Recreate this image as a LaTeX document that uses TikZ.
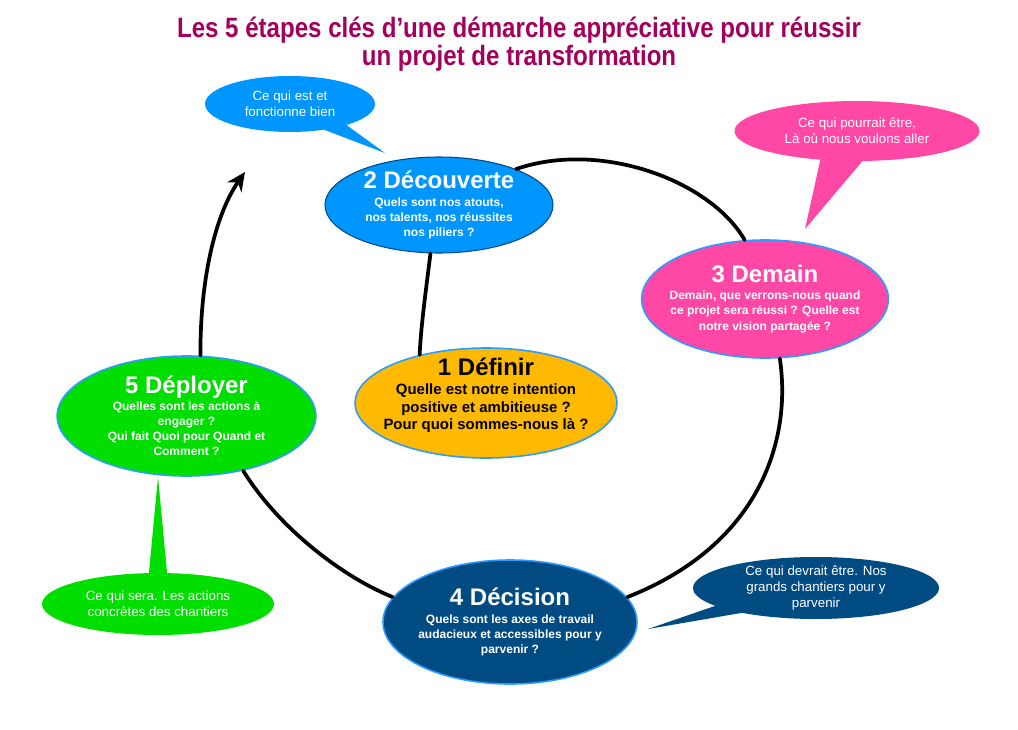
\documentclass[tikz,border=0pt]{standalone}
\usepackage{fontspec}
\setmainfont{Liberation Sans}
\newfontfamily\titlefont[FakeStretch=0.86]{Liberation Sans}
\usetikzlibrary{shapes.geometric,shapes.callouts,arrows.meta}
\definecolor{titlemagenta}{RGB}{163,0,93}
\definecolor{decblue}{RGB}{0,150,255}
\definecolor{dempink}{RGB}{255,72,165}
\definecolor{deforange}{RGB}{255,185,0}
\definecolor{depgreen}{RGB}{0,222,0}
\definecolor{dcinavy}{RGB}{0,75,130}
\definecolor{rimblue}{RGB}{45,155,255}
\begin{document}
\begin{tikzpicture}[x=0.75pt,y=-0.75pt,
  stepnode/.style={ellipse,draw=rimblue,line width=1.2pt,inner sep=-8pt,align=center,text=white,
    font=\bfseries\fontsize{9}{11.3}\selectfont},
  callnode/.style={ellipse callout,inner sep=-6pt,align=center,text=white,
    font=\fontsize{10}{12}\selectfont},
  link/.style={line width=2.8pt,line cap=round}]
\useasboundingbox (0,0) rectangle (1018,729);
\node[font=\titlefont\bfseries\fontsize{21}{21}\selectfont,text=titlemagenta,align=center] (title) at (519,44)
  {Les 5 étapes clés d’une démarche appréciative pour réussir\\un projet de transformation};
% the five steps
\node[stepnode,fill=decblue,draw=dcinavy,line width=0.8pt,minimum width=171pt,minimum height=72pt] (dec) at (439,205)
  {{\fontsize{18}{20}\selectfont 2 Découverte}\\[1.5pt]Quels sont nos atouts,\\nos talents, nos réussites\\nos piliers ?};
\node[stepnode,fill=dempink,minimum width=185pt,minimum height=88.5pt] (dem) at (765,299)
  {{\fontsize{18}{20}\selectfont 3 Demain}\\[1.5pt]Demain, que verrons-nous quand\\ce projet sera réussi ? Quelle est\\notre vision partagée ?};
\node[stepnode,fill=deforange,text=black,font=\bfseries\fontsize{11.2}{12.8}\selectfont,minimum width=196.5pt,minimum height=82.5pt] (def) at (486,403)
  {{\fontsize{18}{20}\selectfont 1 Définir}\\[1.5pt]Quelle est notre intention\\positive et ambitieuse ?\\Pour quoi sommes-nous là ?\rule[-14pt]{0pt}{14pt}};
\node[stepnode,fill=depgreen,minimum width=194pt,minimum height=90pt] (dep) at (186.5,416)
  {{\fontsize{18}{20}\selectfont 5 Déployer}\\[1.5pt]Quelles sont les actions à\\engager ?\\Qui fait Quoi pour Quand et\\Comment ?};
\node[stepnode,fill=dcinavy,minimum width=190.5pt,minimum height=93pt] (dci) at (510,622)
  {{\fontsize{18}{20}\selectfont 4 Décision}\\[1.5pt]Quels sont les axes de travail\\audacieux et accessibles pour y\\parvenir ?};
% the cycle
\coordinate (arrowtip) at (245,172);
\draw[link] (dec.-100) .. controls (426,290) and (421,325) .. (def.144);
\draw[link] (dec.25) .. controls (600,140) and (710,180) .. (dem.109);
\draw[link] (dem.-76) .. controls (792,440) and (760,545) .. (dci.12);
\draw[link] (dci.168) .. controls (345,578) and (280,530) .. (dep.-44);
\draw[link,-{Stealth[length=14pt,width=13pt]}] (dep.77) .. controls (200,280) and (215,215) .. (arrowtip);
% callouts
\coordinate (tipdec) at (385,153);
\coordinate (tipdem) at (805,229);
\coordinate (tipdep) at (158,477);
\coordinate (tipdci) at (648,629);
\node[callnode,fill=decblue,minimum width=127.5pt,minimum height=42pt,callout absolute pointer={(tipdec)},callout pointer arc=18] (cdec) at (290,104)
  {Ce qui est et\\fonctionne bien};
\node[callnode,fill=dempink,minimum width=183.75pt,minimum height=45pt,callout absolute pointer={(tipdem)},callout pointer arc=20] (cdem) at (857,131)
  {Ce qui pourrait être,\\Là où nous voulons aller};
\node[callnode,fill=depgreen,minimum width=174pt,minimum height=46.5pt,callout absolute pointer={(tipdep)},callout pointer arc=9] (cdep) at (158,604)
  {Ce qui sera. Les actions\\concrètes des chantiers};
\node[callnode,fill=dcinavy,minimum width=184.5pt,minimum height=46.5pt,callout absolute pointer={(tipdci)},callout pointer arc=18] (cdci) at (816,588)
  {Ce qui devrait être. Nos\\grands chantiers pour y\\parvenir};
\end{tikzpicture}
\end{document}
